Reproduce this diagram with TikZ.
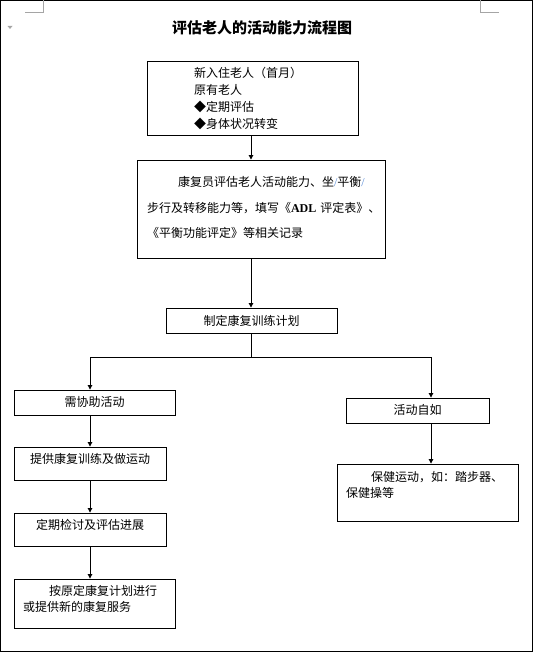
\documentclass[tikz,border=0pt]{standalone}
\usepackage{fontspec}
\setmainfont{Noto Sans CJK SC}
\newfontfamily\latinfont{Liberation Serif}
\usetikzlibrary{arrows.meta}
\definecolor{slashblue}{RGB}{90,140,215}
\definecolor{markgray}{RGB}{165,165,165}

\begin{document}
\begin{tikzpicture}[x=1pt, y=-1pt, >={Triangle[length=4.5pt,width=4.5pt]},
  box/.style={draw, rectangle, line width=0.9pt, inner ysep=0pt, text height=16.6pt, font=\fontsize{12pt}{17pt}\selectfont},
  cbox/.style={box, inner xsep=0pt, align=center},
  lbox/.style={box, align=left},
  arr/.style={->, line width=0.9pt}]

\useasboundingbox (0,0) rectangle (534,652);

% page frame and corner marks
\draw[line width=1pt] (0.5,0.5) rectangle (532.5,651.5);
\draw[markgray, line width=0.9pt] (25,12) -- (43.5,12) -- (43.5,0);
\draw[markgray, line width=0.9pt] (480.5,0) -- (480.5,12) -- (499,12);
\fill[markgray] (7.5,26) -- (12.5,26) -- (10,29) -- cycle;

% title
\node[font=\fontsize{15pt}{18pt}\selectfont\bfseries] (title) at (262,28) {评估老人的活动能力流程图};

% Define the nodes with coordinates
\node[lbox, inner xsep=47pt, text width=117pt, text depth=57.4pt] (adm) at (252.5,98)
  {新入住老人（首月）\\原有老人\\◆定期评估\\◆身体状况转变};
\node[lbox, inner xsep=10pt, text width=228pt, text height=26.6pt, text depth=71.4pt,
  font=\fontsize{12pt}{25.5pt}\selectfont] (assess) at (261,209)
  {\hspace*{31pt}康复员评估老人活动能力、坐{\latinfont\color{slashblue}/}平衡{\latinfont\color{slashblue}/}\\
   步行及转移能力等，填写《{\latinfont\bfseries ADL}~评定表》、\\
   《平衡功能评定》等相关记录};
\node[cbox, text width=171pt, text height=17.6pt, text depth=7.4pt] (plan) at (251.5,320.5) {制定康复训练计划};
\node[cbox, text width=161pt, text depth=8.4pt] (need) at (94.5,402.5) {需协助活动};
\node[cbox, text width=143pt, text depth=8.4pt] (free) at (417.5,410.5) {活动自如};
\node[cbox, text width=152pt, text depth=16.4pt] (train) at (90,463.5) {提供康复训练及做运动};
\node[cbox, text width=152pt, text depth=16.4pt] (review) at (90,529.5) {定期检讨及评估进展};
\node[lbox, inner xsep=9pt, text width=143pt, text depth=32.4pt,
  font=\fontsize{12pt}{16pt}\selectfont] (cont) at (94.5,603.5)
  {\hspace*{26pt}按原定康复计划进行\\或提供新的康复服务};
\node[lbox, inner xsep=9pt, text width=163pt, text height=17.6pt, text depth=39.4pt,
  font=\fontsize{12pt}{16pt}\selectfont] (keep) at (427.5,492.5)
  {\hspace*{25pt}保健运动，如：踏步器、\\保健操等};

% branch points
\coordinate (trunk) at (251,357);
\coordinate (lcol) at (90,357);
\coordinate (rcol) at (431,357);

% Draw the connectors
\draw[arr] (adm.south -| trunk) -- (assess.north -| trunk);
\draw[arr] (assess.south -| trunk) -- (plan.north -| trunk);
\draw[line width=0.9pt] (plan.south -| trunk) -- (trunk);
\draw[arr] (trunk) -- (lcol) -- (lcol |- need.north);
\draw[arr] (trunk) -- (rcol) -- (rcol |- free.north);
\draw[arr] (need.south -| lcol) -- (train.north -| lcol);
\draw[arr] (train.south -| lcol) -- (review.north -| lcol);
\draw[arr] (review.south -| lcol) -- (cont.north -| lcol);
\draw[arr] (free.south -| rcol) -- (keep.north -| rcol);

\end{tikzpicture}
\end{document}
